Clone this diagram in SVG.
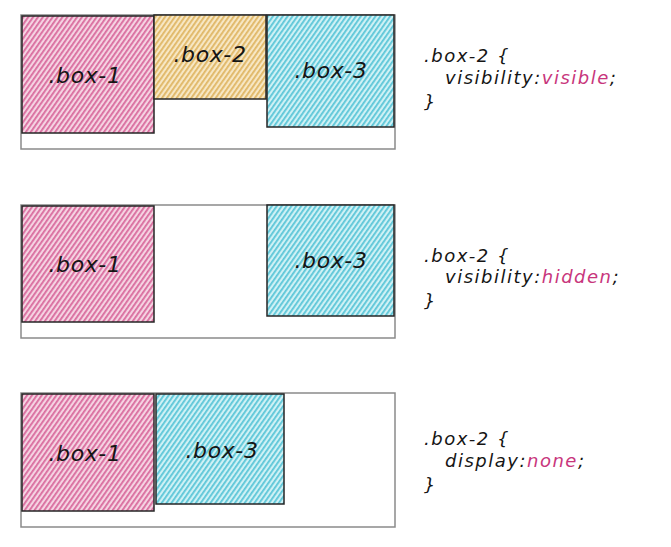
<svg xmlns="http://www.w3.org/2000/svg" width="671" height="547" viewBox="0 0 671 547">
<defs>
<pattern id="hp" width="4" height="4" patternUnits="userSpaceOnUse" patternTransform="rotate(-55)">
<rect width="4" height="4" fill="#f5d3e2"/><rect width="4" height="1.8" fill="#d96c9e"/>
</pattern>
<pattern id="hy" width="4" height="4" patternUnits="userSpaceOnUse" patternTransform="rotate(-55)">
<rect width="4" height="4" fill="#f7e7c4"/><rect width="4" height="1.8" fill="#e0b766"/>
</pattern>
<pattern id="hc" width="4" height="4" patternUnits="userSpaceOnUse" patternTransform="rotate(-55)">
<rect width="4" height="4" fill="#cff1f5"/><rect width="4" height="1.8" fill="#5cc6d8"/>
</pattern>
</defs>
<style>
.cont{fill:#fff;stroke:#8a8a8a;stroke-width:1.5}
.box{stroke:#262626;stroke-width:1.5}
.lbl{font-family:"DejaVu Sans",sans-serif;font-style:italic;font-size:22px;letter-spacing:0.6px;fill:#151515;text-anchor:middle}
.code{font-family:"DejaVu Sans",sans-serif;font-style:italic;font-size:18px;letter-spacing:1.5px;fill:#151515}
.kw{fill:#c8367c}
</style>
<rect width="671" height="547" fill="#fff"/>

<g id="panel-1">
<rect class="cont" x="21" y="15" width="374" height="134"/>
<g id="p1-box-1"><rect class="box" x="22" y="16" width="132" height="117" fill="url(#hp)"/><text class="lbl" x="85" y="83">.box-1</text></g>
<g id="p1-box-2"><rect class="box" x="154" y="15" width="112" height="84" fill="url(#hy)"/><text class="lbl" x="210" y="62">.box-2</text></g>
<g id="p1-box-3"><rect class="box" x="267" y="15" width="127" height="112" fill="url(#hc)"/><text class="lbl" x="331" y="78">.box-3</text></g>
<g id="p1-code">
<text class="code" x="424" y="62">.box-2 {</text>
<text class="code" x="445" y="84">visibility:<tspan class="kw">visible</tspan>;</text>
<text class="code" x="424" y="108">}</text>
</g>
</g>

<g id="panel-2">
<rect class="cont" x="21" y="205" width="374" height="133"/>
<g id="p2-box-1"><rect class="box" x="22" y="206" width="132" height="116" fill="url(#hp)"/><text class="lbl" x="85" y="272">.box-1</text></g>
<g id="p2-box-3"><rect class="box" x="267" y="205" width="127" height="111" fill="url(#hc)"/><text class="lbl" x="331" y="268">.box-3</text></g>
<g id="p2-code">
<text class="code" x="424" y="262">.box-2 {</text>
<text class="code" x="445" y="283">visibility:<tspan class="kw">hidden</tspan>;</text>
<text class="code" x="424" y="307">}</text>
</g>
</g>

<g id="panel-3">
<rect class="cont" x="21" y="393" width="374" height="134"/>
<g id="p3-box-1"><rect class="box" x="22" y="394" width="132" height="117" fill="url(#hp)"/><text class="lbl" x="85" y="461">.box-1</text></g>
<g id="p3-box-3"><rect class="box" x="156" y="394" width="128" height="110" fill="url(#hc)"/><text class="lbl" x="222" y="458">.box-3</text></g>
<g id="p3-code">
<text class="code" x="424" y="445">.box-2 {</text>
<text class="code" x="445" y="467">display:<tspan class="kw">none</tspan>;</text>
<text class="code" x="424" y="491">}</text>
</g>
</g>
<g id="connectors"/>
</svg>
